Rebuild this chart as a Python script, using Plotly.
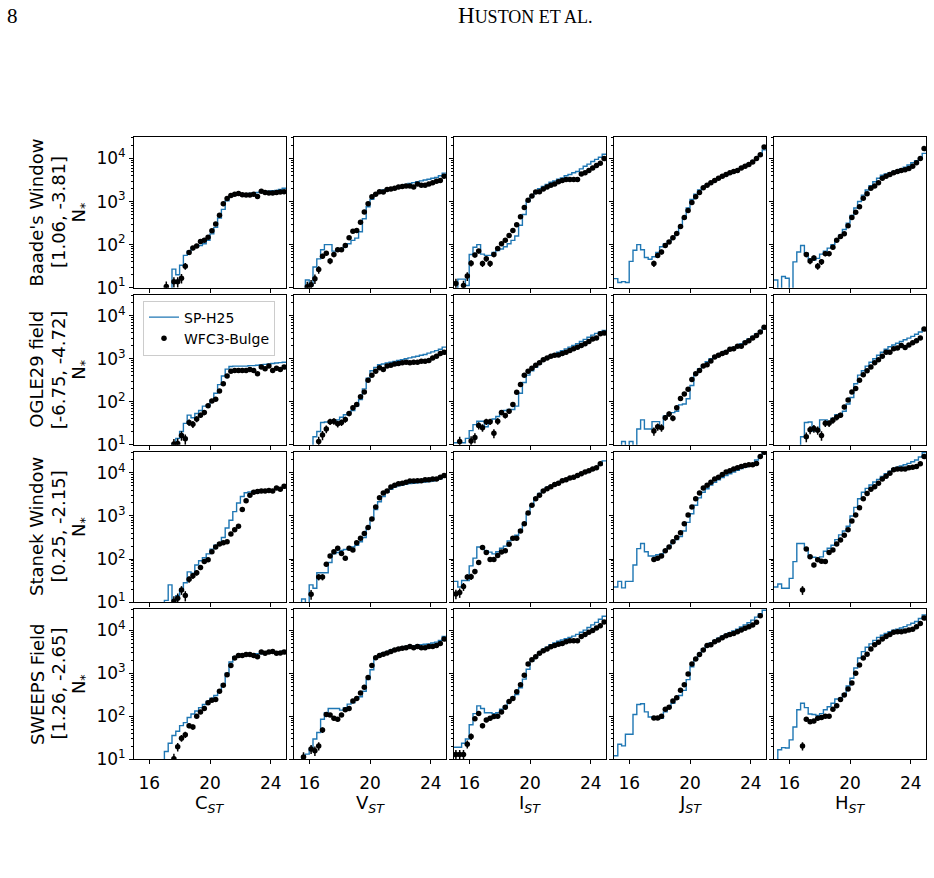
import numpy as np
import plotly.graph_objects as go

N = None

# magnitude bin edges (0.25 mag bins)
bin_edges = [15.0, 15.25, 15.5, 15.75, 16.0, 16.25, 16.5, 16.75, 17.0, 17.25,
             17.5, 17.75, 18.0, 18.25, 18.5, 18.75, 19.0, 19.25, 19.5, 19.75,
             20.0, 20.25, 20.5, 20.75, 21.0, 21.25, 21.5, 21.75, 22.0, 22.25,
             22.5, 22.75, 23.0, 23.25, 23.5, 23.75, 24.0, 24.25, 24.5, 24.75, 25.0]

filters = ["C", "V", "I", "J", "H"]
field_names = ["Baade's Window", "OGLE29 field", "Stanek Window", "SWEEPS Field"]
field_coords = ["[1.06, -3.81]", "[-6.75, -4.72]", "[0.25, -2.15]", "[1.26, -2.65]"]
x_ticks = [16, 20, 24]

# log10(N*) per bin -- SP-H25 model (step histogram)
sp_baade_C = [N,N,N,N,N,N,N,N,N,N, 1.43,1.30,1.52,1.75,1.85,1.93,1.96,1.98,2.02,2.10, 2.25,2.40,2.62,2.82,3.02,3.12,3.16,3.18,3.17,3.18, 3.19,3.20,3.21,3.22,3.23,3.24,3.25,3.26,3.28,3.31]
sp_baade_V = [N,N,N,1.18,1.05,1.48,1.67,1.88,2.00,2.00, 1.85,1.85,1.88,1.95,2.02,2.10,2.15,2.30,2.60,2.88, 3.05,3.17,3.23,3.27,3.29,3.30,3.32,3.34,3.37,3.40, 3.42,3.44,3.46,3.48,3.50,3.52,3.54,3.56,3.60,3.66]
sp_baade_I = [N,1.20,1.20,1.05,1.77,1.94,2.00,1.78,1.75,1.75, 1.82,1.86,1.90,1.95,2.02,2.10,2.20,2.45,2.70,3.00, 3.12,3.22,3.30,3.35,3.40,3.45,3.48,3.52,3.55,3.60, 3.63,3.67,3.70,3.76,3.82,3.87,3.93,3.98,4.03,4.10]
sp_baade_J = [1.21,1.12,1.14,1.12,1.61,1.87,2.00,1.88,1.70,1.66, 1.72,1.82,1.95,2.02,2.08,2.15,2.25,2.40,2.62,2.85, 3.05,3.17,3.27,3.33,3.39,3.44,3.49,3.54,3.58,3.62, 3.65,3.69,3.73,3.78,3.83,3.88,3.94,4.00,4.07,4.20]
sp_baade_H = [1.18,N,1.26,1.22,N,1.60,1.83,1.98,1.80,1.67, 1.64,1.68,1.78,1.85,1.92,2.00,2.12,2.22,2.35,2.50, 2.68,2.85,3.00,3.15,3.27,3.37,3.46,3.54,3.61,3.64, 3.67,3.70,3.72,3.76,3.80,3.85,3.90,3.95,4.00,4.12]

sp_ogle_C = [N,N,N,N,N,N,N,N,N,N, 1.03,1.15,1.31,1.50,1.69,1.63,1.73,1.80,1.90,1.92, 2.03,2.20,2.40,2.60,2.76,2.82,2.83,2.83,2.83,2.83, 2.84,2.84,2.85,2.86,2.87,2.88,2.89,2.90,2.91,2.92]
sp_ogle_V = [N,N,N,N,N,1.19,1.31,1.52,1.53,1.54, 1.55,1.58,1.64,1.70,1.75,1.80,1.90,2.05,2.30,2.55, 2.72,2.80,2.86,2.88,2.90,2.92,2.94,2.96,2.98,3.00, 3.02,3.04,3.06,3.08,3.10,3.13,3.16,3.19,3.22,3.27]
sp_ogle_I = [1.05,1.05,1.05,1.15,1.33,1.47,1.55,1.55,1.42,1.55, 1.60,1.66,1.74,1.80,1.82,1.82,1.90,2.20,2.45,2.62, 2.72,2.80,2.88,2.96,3.02,3.07,3.11,3.15,3.19,3.23, 3.27,3.31,3.35,3.40,3.45,3.50,3.55,3.59,3.62,3.66]
sp_ogle_J = [N,N,1.08,N,1.08,N,1.37,1.58,1.37,1.37, 1.54,1.54,1.42,1.67,1.72,1.75,1.78,1.93,1.95,2.07, 2.38,2.65,2.77,2.85,2.93,3.00,3.06,3.10,3.14,3.18, 3.22,3.26,3.30,3.35,3.40,3.46,3.52,3.58,3.64,3.72]
sp_ogle_H = [N,N,N,N,N,N,N,1.19,1.52,1.53, 1.32,1.32,1.58,1.58,1.50,1.62,1.70,1.72,1.78,1.95, 2.10,2.42,2.62,2.72,2.83,2.92,3.00,3.08,3.15,3.22, 3.28,3.32,3.36,3.40,3.44,3.48,3.52,3.57,3.62,3.70]

sp_stanek_C = [N,N,N,N,N,N,N,N,1.04,1.40, 1.04,1.15,1.27,1.45,1.70,1.67,1.86,1.96,2.03,2.12, 2.23,2.32,2.37,2.50,2.72,2.90,3.10,3.30,3.45,3.54, 3.56,3.57,3.58,3.59,3.60,3.60,3.61,3.62,3.63,3.66]
sp_stanek_V = [N,N,1.07,N,1.40,1.32,1.68,1.68,1.68,1.92, 2.12,2.15,2.20,2.22,2.23,2.28,2.32,2.40,2.50,2.72, 2.92,3.15,3.33,3.45,3.55,3.62,3.67,3.70,3.72,3.74, 3.75,3.76,3.77,3.78,3.79,3.80,3.81,3.83,3.86,3.90]
sp_stanek_I = [1.48,1.35,1.50,1.50,1.84,2.02,2.28,2.28,2.19,2.16, 2.12,2.17,2.25,2.30,2.42,2.50,2.55,2.68,2.80,3.05, 3.25,3.42,3.52,3.60,3.66,3.70,3.74,3.78,3.82,3.85, 3.88,3.91,3.94,3.97,4.00,4.04,4.08,4.12,4.18,4.28]
sp_stanek_J = [1.35,1.48,1.33,1.48,1.48,1.86,2.24,2.36,2.17,2.07, 2.07,2.10,2.12,2.20,2.28,2.38,2.45,2.52,2.65,2.85, 3.05,3.25,3.42,3.55,3.63,3.72,3.78,3.84,3.89,3.94, 3.98,4.02,4.06,4.10,4.13,4.17,4.21,4.30,4.38,4.48]
sp_stanek_H = [1.35,1.42,1.32,1.32,1.55,1.94,2.36,2.36,2.24,2.05, 2.04,2.02,2.05,2.18,2.25,2.32,2.45,2.56,2.65,2.76, 3.00,3.20,3.40,3.55,3.64,3.72,3.79,3.85,3.92,3.98, 4.04,4.10,4.13,4.16,4.19,4.22,4.26,4.30,4.37,4.47]

sp_sweeps_C = [N,N,N,N,N,N,N,N,1.18,1.37, 1.55,1.65,1.78,1.85,1.97,2.05,2.12,2.20,2.27,2.35, 2.42,2.48,2.60,2.75,3.00,3.26,3.38,3.42,3.44,3.44, 3.44,3.44,3.45,3.45,3.46,3.46,3.47,3.48,3.49,3.52]
sp_sweeps_V = [N,N,1.05,1.12,1.24,1.47,1.62,1.93,2.08,2.18, 2.18,2.18,2.14,2.20,2.28,2.31,2.40,2.45,2.58,2.85, 3.08,3.35,3.42,3.47,3.50,3.53,3.56,3.58,3.60,3.62, 3.63,3.64,3.65,3.66,3.67,3.68,3.70,3.72,3.76,3.85]
sp_sweeps_I = [1.28,1.28,1.37,1.47,1.80,2.06,2.24,2.18,2.08,2.08, 2.06,2.08,2.16,2.23,2.35,2.44,2.50,2.66,2.86,3.09, 3.28,3.38,3.48,3.55,3.60,3.66,3.70,3.74,3.77,3.80, 3.83,3.86,3.90,3.95,4.00,4.06,4.12,4.18,4.25,4.32]
sp_sweeps_J = [1.08,1.35,1.31,1.58,1.58,2.04,2.27,2.29,2.10,1.98, 1.95,1.93,1.95,2.10,2.20,2.30,2.40,2.48,2.60,2.85, 3.15,3.32,3.46,3.57,3.64,3.70,3.76,3.81,3.86,3.90, 3.94,3.98,4.02,4.07,4.12,4.17,4.23,4.30,4.38,4.46]
sp_sweeps_H = [N,1.22,1.27,1.26,1.45,1.75,2.15,2.30,2.20,2.05, 2.04,2.02,2.06,2.15,2.22,2.30,2.40,2.42,2.52,2.70, 2.88,3.12,3.35,3.50,3.60,3.68,3.76,3.83,3.88,3.92, 3.96,4.00,4.02,4.05,4.08,4.12,4.16,4.20,4.27,4.35]

# log10(N*) per bin -- WFC3-Bulge observations (points, bin centres)
obs_baade_C = [N,N,N,N,N,N,N,N,1.03,N, 1.14,1.14,1.22,1.50,1.82,1.92,1.97,2.07,2.10,2.17, 2.32,2.48,2.68,2.95,3.07,3.14,3.17,3.19,3.16,3.15, 3.15,3.17,3.12,3.24,3.21,3.20,3.20,3.21,3.22,3.23]
obs_baade_V = [N,N,N,1.02,1.07,1.21,1.42,1.73,1.80,1.62, 1.77,1.88,1.88,1.98,2.16,2.31,2.33,2.52,2.76,2.95, 3.11,3.17,3.23,3.22,3.28,3.29,3.31,3.34,3.35,3.36, 3.36,3.34,3.41,3.38,3.38,3.41,3.44,3.47,3.49,3.59]
obs_baade_I = [1.10,N,1.05,1.27,1.57,1.76,1.85,1.56,1.67,1.56, 1.77,1.91,2.02,2.10,2.21,2.33,2.46,2.65,2.86,3.03, 3.13,3.22,3.23,3.29,3.34,3.38,3.41,3.46,3.49,3.51, 3.51,3.51,3.51,3.64,3.67,3.72,3.78,3.84,3.89,4.00]
obs_baade_J = [N,N,N,N,N,N,N,N,N,N, 1.56,1.75,1.83,1.98,2.06,2.16,2.26,2.42,2.63,2.79, 2.98,3.11,3.21,3.32,3.38,3.44,3.49,3.54,3.59,3.63, 3.67,3.70,3.72,3.78,3.82,3.86,3.92,4.00,4.09,4.27]
obs_baade_H = [N,N,N,N,N,N,N,N,1.77,1.62, 1.69,1.50,1.60,1.79,1.79,1.94,2.10,2.19,2.25,2.44, 2.63,2.75,2.88,3.08,3.18,3.31,3.36,3.44,3.54,3.59, 3.63,3.67,3.70,3.72,3.74,3.77,3.82,3.90,4.00,4.23]

obs_ogle_C = [N,N,N,N,N,N,N,N,N,N, 1.02,1.03,1.22,1.14,1.52,1.48,1.60,1.69,1.75,1.91, 2.02,2.06,2.25,2.42,2.60,2.71,2.73,2.73,2.73,2.73, 2.75,2.73,2.65,2.81,2.77,2.83,2.73,2.78,2.75,2.81]
obs_ogle_V = [N,N,N,N,N,N,1.08,1.23,1.37,1.54, 1.55,1.49,1.52,1.59,1.73,1.86,1.94,2.12,2.23,2.50, 2.62,2.71,2.79,2.75,2.83,2.85,2.88,2.89,2.91,2.92, 2.91,2.92,2.92,2.94,2.94,2.96,3.02,3.06,3.12,3.15]
obs_ogle_I = [N,1.08,N,N,1.09,1.17,1.45,1.40,1.54,1.54, 1.27,1.55,1.75,1.68,1.78,1.94,2.22,2.40,2.62,2.71, 2.78,2.85,2.91,2.98,3.02,3.06,3.08,3.09,3.12,3.15, 3.19,3.23,3.27,3.31,3.35,3.40,3.46,3.48,3.58,3.60]
obs_ogle_J = [N,N,N,N,N,N,N,N,N,N, 1.32,1.42,1.40,1.63,1.72,1.62,1.86,2.08,2.18,2.29, 2.52,2.65,2.73,2.83,2.86,2.95,3.04,3.08,3.12,3.15, 3.22,3.23,3.29,3.29,3.37,3.42,3.48,3.54,3.62,3.73]
obs_ogle_H = [N,N,N,N,N,N,N,N,1.19,1.35, 1.38,1.34,1.22,1.50,1.50,1.57,1.64,1.69,1.88,2.04, 2.23,2.31,2.50,2.63,2.72,2.81,2.91,2.98,3.06,3.15, 3.15,3.23,3.25,3.31,3.26,3.32,3.37,3.42,3.48,3.69]

obs_stanek_C = [N,N,N,N,N,N,N,N,N,N, 1.02,1.09,1.28,1.15,1.53,1.61,1.68,1.80,1.94,1.98, 2.17,2.28,2.35,2.38,2.40,2.58,2.68,2.76,3.15,3.35, 3.48,3.55,3.57,3.58,3.58,3.59,3.58,3.65,3.62,3.69]
obs_stanek_V = [N,N,N,N,1.18,N,1.58,1.58,1.88,2.07, 2.17,2.25,2.13,2.02,2.25,2.21,2.38,2.48,2.59,2.73, 2.93,3.21,3.42,3.53,3.58,3.67,3.71,3.75,3.76,3.78, 3.81,3.81,3.82,3.82,3.84,3.84,3.86,3.86,3.90,3.94]
obs_stanek_I = [1.19,1.22,1.36,1.58,1.59,1.71,1.92,2.27,2.15,1.99, 1.99,2.08,2.16,2.19,2.34,2.48,2.48,2.65,2.82,3.07, 3.25,3.40,3.48,3.58,3.63,3.68,3.73,3.76,3.82,3.84, 3.88,3.90,3.94,3.98,4.02,4.05,4.09,4.12,4.21,N]
obs_stanek_J = [N,N,N,N,N,N,N,N,N,N, 1.99,2.02,2.07,2.19,2.28,2.40,2.50,2.61,2.82,3.02, 3.21,3.40,3.53,3.65,3.71,3.78,3.86,3.90,3.96,4.02, 4.05,4.09,4.12,4.15,4.17,4.19,4.19,4.22,4.38,4.48]
obs_stanek_H = [N,N,N,N,N,N,N,1.28,2.23,2.05, 1.86,1.98,1.95,1.94,2.15,2.21,2.35,2.44,2.55,2.68, 2.88,3.02,3.19,3.40,3.52,3.62,3.68,3.76,3.86,3.92, 3.99,4.07,4.09,4.09,4.09,4.12,4.13,4.15,4.21,4.38]

obs_sweeps_C = [N,N,N,N,N,N,N,N,N,N, 1.01,1.29,1.49,1.57,1.78,1.75,2.00,2.10,2.18,2.31, 2.37,2.39,2.58,2.72,2.96,3.18,3.35,3.41,3.41,3.43, 3.43,3.41,3.38,3.49,3.46,3.49,3.50,3.46,3.47,3.49]
obs_sweeps_V = [N,N,1.05,N,1.24,1.20,1.31,1.68,2.04,2.03, 1.95,1.93,2.03,2.15,2.18,2.35,2.41,2.54,2.67,2.90, 3.18,3.36,3.41,3.44,3.47,3.50,3.54,3.56,3.58,3.59, 3.62,3.59,3.62,3.59,3.59,3.62,3.62,3.64,3.69,3.79]
obs_sweeps_I = [1.11,1.11,1.11,1.35,1.53,1.94,2.06,1.78,1.91,1.95, 1.99,2.00,2.10,2.21,2.34,2.41,2.57,2.73,2.95,3.21, 3.31,3.38,3.46,3.52,3.56,3.61,3.64,3.67,3.69,3.73, 3.75,3.75,3.75,3.85,3.90,3.95,3.99,4.05,4.10,4.19]
obs_sweeps_J = [N,N,N,N,N,N,N,N,N,N, 1.96,1.96,2.00,2.16,2.21,2.35,2.43,2.60,2.73,2.98, 3.21,3.33,3.43,3.54,3.64,3.66,3.73,3.77,3.82,3.87, 3.90,3.92,3.96,4.00,4.04,4.08,4.12,4.18,4.33,N]
obs_sweeps_H = [N,N,N,N,N,N,N,1.31,1.93,1.87, 1.89,1.95,1.97,2.00,2.00,2.16,2.24,2.39,2.49,2.63, 2.77,3.00,3.19,3.35,3.44,3.56,3.66,3.72,3.79,3.85, 3.90,3.95,3.96,3.96,3.98,4.00,4.02,4.08,4.15,4.28]

model_rows = [
    [sp_baade_C, sp_baade_V, sp_baade_I, sp_baade_J, sp_baade_H],
    [sp_ogle_C, sp_ogle_V, sp_ogle_I, sp_ogle_J, sp_ogle_H],
    [sp_stanek_C, sp_stanek_V, sp_stanek_I, sp_stanek_J, sp_stanek_H],
    [sp_sweeps_C, sp_sweeps_V, sp_sweeps_I, sp_sweeps_J, sp_sweeps_H],
]
obs_rows = [
    [obs_baade_C, obs_baade_V, obs_baade_I, obs_baade_J, obs_baade_H],
    [obs_ogle_C, obs_ogle_V, obs_ogle_I, obs_ogle_J, obs_ogle_H],
    [obs_stanek_C, obs_stanek_V, obs_stanek_I, obs_stanek_J, obs_stanek_H],
    [obs_sweeps_C, obs_sweeps_V, obs_sweeps_I, obs_sweeps_J, obs_sweeps_H],
]

# ---------------- layout geometry (pixels) ----------------
W, H = 934, 878
COL_L, COL_STEP, PW = 134, 160, 152
ROW_T, ROW_STEP, PH = 139, 159, 152
FONT = "DejaVu Sans"
BLUE = "#1f77b4"

bin_centers = [(a + b) / 2 for a, b in zip(bin_edges[:-1], bin_edges[1:])]

fig = go.Figure()
layout = dict(
    width=W, height=H, margin=dict(l=0, r=0, t=0, b=0),
    paper_bgcolor="white", plot_bgcolor="white",
    font=dict(family=FONT, color="black", size=17),
    showlegend=True,
)

minor_vals = [m * 10 ** e for e in range(1, 5) for m in range(2, 10)]
annotations = []

for r in range(4):
    for c in range(5):
        k = r * 5 + c + 1
        s = "" if k == 1 else str(k)
        x0 = (COL_L + COL_STEP * c) / W
        x1 = (COL_L + COL_STEP * c + PW) / W
        yt = ROW_T + ROW_STEP * r
        yb = yt + PH
        layout["xaxis" + s] = dict(
            domain=[x0, x1], anchor="y" + s, range=[15, 25],
            tickvals=x_ticks, ticks="outside", ticklen=4, tickwidth=1, tickcolor="black",
            ticklabelstandoff=4,
            showline=True, linecolor="black", linewidth=1, mirror=True,
            showgrid=False, zeroline=False, showticklabels=(r == 3),
            tickfont=dict(size=17, family=FONT, color="black"),
        )
        layout["yaxis" + s] = dict(
            domain=[1 - yb / H, 1 - yt / H], anchor="x" + s, type="log", range=[1, 4.49],
            tickvals=[10, 100, 1000, 10000],
            ticktext=["10<sup>1</sup>", "10<sup>2</sup>", "10<sup>3</sup>", "10<sup>4</sup>"],
            ticks="outside", ticklen=4, tickwidth=1, tickcolor="black",
            minor=dict(tickmode="array", tickvals=minor_vals, ticks="outside",
                       ticklen=2, tickwidth=0.8, tickcolor="black", showgrid=False),
            showline=True, linecolor="black", linewidth=1, mirror=True,
            showgrid=False, zeroline=False, showticklabels=(c == 0),
            tickfont=dict(size=17, family=FONT, color="black"),
        )

        mdl = model_rows[r][c]
        logs = [v if v is not None else 0.0 for v in mdl]
        y_step = [10 ** v for v in logs] + [10 ** logs[-1]]
        fig.add_trace(go.Scatter(
            x=bin_edges, y=y_step, mode="lines",
            line=dict(color=BLUE, width=1.4, shape="hv"),
            name="SP-H25", showlegend=(k == 1), legendrank=1,
            xaxis="x" + s, yaxis="y" + s, hoverinfo="skip",
        ))

        obs = obs_rows[r][c]
        px = [bc for bc, v in zip(bin_centers, obs) if v is not None]
        py = [10 ** v for v in obs if v is not None]
        err = list(np.sqrt(py))
        fig.add_trace(go.Scatter(
            x=px, y=py, mode="markers",
            marker=dict(color="black", size=5.5),
            error_y=dict(type="data", array=err, color="black", thickness=1.5, width=0),
            name="WFC3-Bulge", showlegend=(k == 1), legendrank=2,
            xaxis="x" + s, yaxis="y" + s,
        ))

# row labels
for r in range(4):
    yc = 1 - (ROW_T + ROW_STEP * r + PH / 2) / H
    for xpx, txt in [(37, field_names[r]), (58.5, field_coords[r]), (80, "N<sub>*</sub>")]:
        annotations.append(dict(
            x=xpx / W, y=yc, xref="paper", yref="paper", text=txt, textangle=-90,
            showarrow=False, xanchor="center", yanchor="middle",
            font=dict(size=18, family=FONT, color="black"),
        ))

# column x labels
for c in range(5):
    xc = (COL_L + COL_STEP * c + PW / 2) / W
    annotations.append(dict(
        x=xc, y=1 - 813 / H, xref="paper", yref="paper",
        text=f"{filters[c]}<sub><i>ST</i></sub>", showarrow=False,
        xanchor="center", yanchor="middle",
        font=dict(size=18, family=FONT, color="black"),
    ))

# page header
annotations.append(dict(
    x=5 / W, y=1 - 16 / H, xref="paper", yref="paper", text="8", showarrow=False,
    xanchor="left", yanchor="middle",
    font=dict(size=21, family="Liberation Serif", color="black"),
))
annotations.append(dict(
    x=525 / W, y=1 - 16 / H, xref="paper", yref="paper",
    text='H<span style="font-size:18px">USTON ET AL.</span>', showarrow=False,
    xanchor="center", yanchor="middle",
    font=dict(size=23, family="Liberation Serif", color="black"),
))

layout["annotations"] = annotations
layout["legend"] = dict(
    x=143 / W, y=1 - 304 / H, xanchor="left", yanchor="top",
    bgcolor="rgba(255,255,255,0.85)", bordercolor="#cccccc", borderwidth=1,
    font=dict(size=14, family=FONT, color="black"),
    itemwidth=30, tracegroupgap=2,
)

fig.update_layout(**layout)
fig.write_html("out.html")
